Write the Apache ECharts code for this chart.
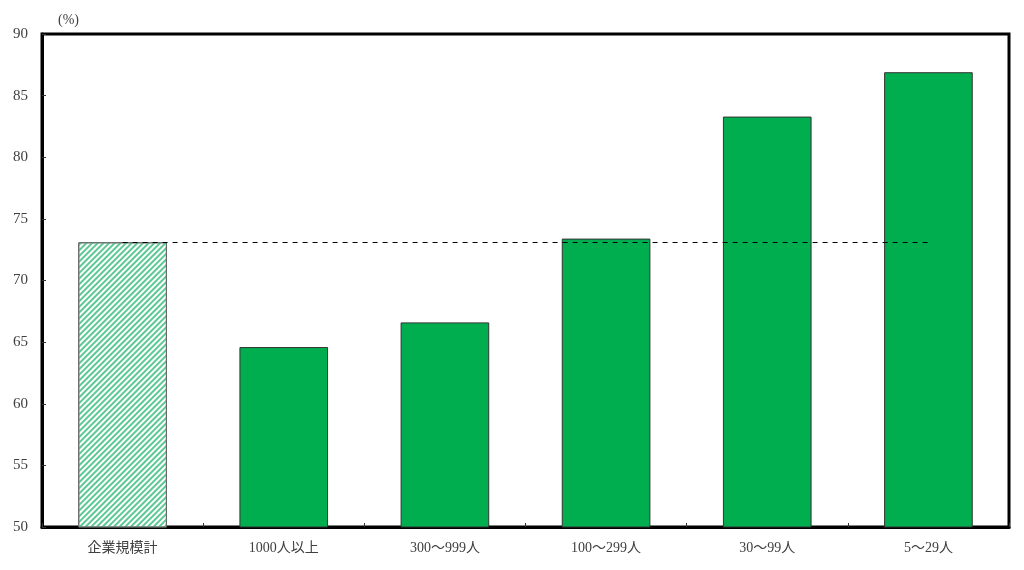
<!DOCTYPE html>
<html><head><meta charset="utf-8">
<script src="https://cdn.jsdelivr.net/npm/echarts@6/dist/echarts.min.js"></script>
<style>html,body{margin:0;padding:0;background:#fff}#c{width:1024px;height:570px}</style>
</head><body><div id="c"></div>
<script>
const categories = ['企業規模計', '1000人以上', '300～999人', '100～299人', '30～99人', '5～29人'];
const values = [73.1, 64.6, 66.6, 73.4, 83.3, 86.9];
const averageValue = 73.1;
const yTicks = [50, 55, 60, 65, 70, 75, 80, 85, 90];

const FONT = '"Liberation Serif", "DejaVu Serif", "Noto Sans CJK JP", serif';

const data = values.map((v, i) => i === 0 ? {
  value: v,
  itemStyle: {
    color: '#ffffff', borderColor: '#666', borderWidth: 1,
    decal: { symbol: 'rect', color: '#5cc893', dashArrayX: [1, 0], dashArrayY: [1.2, 1.8], rotation: -Math.PI / 4 }
  }
} : { value: v });

const chart = echarts.init(document.getElementById('c'), null, { renderer: 'canvas' });
chart.setOption({
  animation: false,
  backgroundColor: '#fff',
  aria: { enabled: false, decal: { show: false } },
  grid: { left: 42, right: 15, top: 34, bottom: 43, show: true, borderColor: '#000', borderWidth: 3, backgroundColor: 'transparent' },
  xAxis: {
    type: 'category', data: categories,
    axisLine: { show: true, lineStyle: { color: '#000', width: 3 } },
    axisTick: { show: true, inside: true, length: 4, lineStyle: { color: '#333' } },
    axisLabel: { color: '#404040', fontSize: 14, fontFamily: FONT, margin: 14 }
  },
  yAxis: {
    type: 'value', min: yTicks[0], max: yTicks[yTicks.length-1], interval: 5,
    name: '(%)', nameLocation: 'end', nameGap: 7,
    nameTextStyle: { color: '#404040', fontSize: 14, fontFamily: FONT, align: 'left', padding: [0,0,0,16] },
    axisLine: { show: true, lineStyle: { color: '#000', width: 3 } },
    axisTick: { show: true, inside: true, length: 4, lineStyle: { color: '#333' } },
    splitLine: { show: false },
    axisLabel: { color: '#404040', fontSize: 15, fontFamily: FONT, margin: 14 }
  },
  series: [{
    type: 'bar', data: data, barWidth: '55%',
    itemStyle: { color: '#00ad4f', borderColor: '#333', borderWidth: 1 },
    markLine: {
      symbol: 'none', silent: true, label: { show: false },
      lineStyle: { color: '#000', type: [5, 5], width: 1.2 },
      data: [[{ coord: [0, averageValue] }, { coord: [categories.length - 1, averageValue] }]]
    }
  }]
});
</script></body></html>
